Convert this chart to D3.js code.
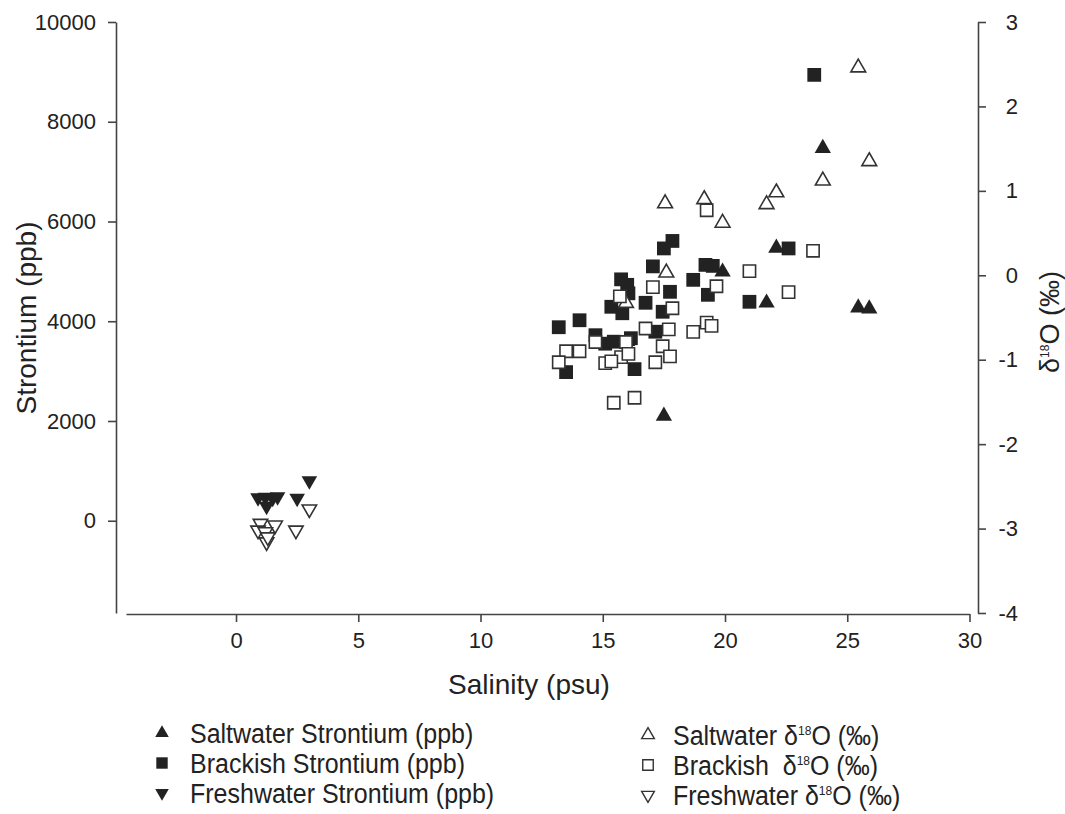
<!DOCTYPE html>
<html>
<head>
<meta charset="utf-8">
<script src="https://cdn.jsdelivr.net/npm/d3@7"></script>
<style>
body { margin: 0; background: #fff; }
text { font-family: "Liberation Sans", Arial, sans-serif; fill: #222; }
</style>
</head>
<body>
<script>
// tick values
var xTicks = [0, 5, 10, 15, 20, 25, 30]
var srTicks = [0, 2000, 4000, 6000, 8000, 10000]
var dTicks = [-4, -3, -2, -1, 0, 1, 2, 3]

// [salinity, strontium ppb]
var saltSr = [[17.5, 2100], [24.0, 7470], [22.1, 5470], [21.7, 4370], [25.45, 4270], [25.9, 4250], [19.9, 4990], [16.0, 3600]]
var brackSr = [[23.65, 8940], [22.6, 5460], [21.0, 4390], [19.2, 5130], [19.5, 5110], [18.7, 4830], [19.3, 4530],
	[17.85, 5610], [17.5, 5460], [17.05, 5100], [15.75, 4840], [16.0, 4730], [16.05, 4560], [15.35, 4290], [15.8, 4160],
	[17.75, 4590], [16.75, 4370], [17.45, 4190], [13.2, 3880], [14.05, 4020], [14.7, 3720], [15.1, 3550], [15.45, 3590],
	[16.15, 3660], [17.15, 3790], [13.5, 2980], [16.3, 3040]]
var freshSr = [[0.9, 460], [1.2, 470], [1.5, 450], [1.7, 480], [1.25, 290], [2.5, 450], [3.0, 800]]

// [salinity, d18O permil]
var saltD = [[25.45, 2.46], [25.9, 1.35], [24.0, 1.12], [22.1, 0.98], [21.7, 0.84], [19.15, 0.9], [19.9, 0.62],
	[17.55, 0.85], [17.6, 0.03], [15.95, -0.33]]
var brackD = [[19.25, 0.77], [23.6, 0.29], [21.0, 0.05], [19.65, -0.13], [22.6, -0.2], [17.05, -0.14], [15.7, -0.25],
	[17.85, -0.39], [16.75, -0.63], [17.7, -0.64], [18.7, -0.67], [19.25, -0.56], [19.45, -0.6], [13.5, -0.9],
	[14.05, -0.9], [13.2, -1.03], [14.7, -0.79], [15.95, -0.79], [15.75, -0.97], [16.05, -0.93], [15.1, -1.04],
	[15.35, -1.02], [17.45, -0.84], [17.75, -0.96], [17.15, -1.03], [15.45, -1.51], [16.3, -1.45]]
var freshD = [[3.0, -2.77], [1.6, -2.96], [2.45, -3.02], [1.0, -2.94], [0.9, -3.02], [1.2, -3.04], [1.25, -3.16], [1.3, -3.1]]

var svg = d3.select("body").append("svg")
	.attr("width", 1065)
	.attr("height", 814)

var x = d3.scaleLinear().domain([-4.5, 30]).range([126, 969.5])
var ySr = d3.scaleLinear().domain([-1850, 10000]).range([613, 22])
var yD = d3.scaleLinear().domain([-4, 3]).range([613, 22])

var plain = function(d) { return String(d) }

function styleAxis(g) {
	g.select(".domain").attr("stroke", "#444").attr("stroke-width", 1.6)
	g.selectAll(".tick line").attr("stroke", "#444").attr("stroke-width", 1.6)
	g.selectAll(".tick text").style("font-size", "22px").attr("fill", "#222")
}

svg.append("g")
	.attr("transform", "translate(0,614)")
	.call(d3.axisBottom(x).tickValues(xTicks).tickFormat(plain).tickSize(8).tickSizeOuter(0).tickPadding(10))
	.call(styleAxis)

svg.append("g")
	.attr("transform", "translate(116,0)")
	.call(d3.axisLeft(ySr).tickValues(srTicks).tickFormat(plain).tickSize(8).tickSizeOuter(0).tickPadding(12))
	.call(styleAxis)

svg.append("g")
	.attr("transform", "translate(978,0)")
	.call(d3.axisRight(yD).tickValues(dTicks).tickFormat(plain).tickSize(8).tickSizeOuter(0).tickPadding(10))
	.call(styleAxis)
	.call(function (g) {
		g.selectAll(".tick text").attr("text-anchor", "end").attr("x", 40)
	})

// axis titles
svg.append("text")
	.attr("x", 529).attr("y", 694)
	.attr("text-anchor", "middle")
	.style("font-size", "28px")
	.text("Salinity (psu)")

svg.append("text")
	.attr("transform", "translate(36,318) rotate(-90)")
	.attr("text-anchor", "middle")
	.style("font-size", "28px")
	.text("Strontium (ppb)")

var dTitle = svg.append("text")
	.attr("transform", "translate(1059,322) rotate(-90)")
	.attr("text-anchor", "middle")
	.style("font-size", "27px")
dTitle.append("tspan").text("δ")
dTitle.append("tspan").attr("dy", -10).style("font-size", "12px").text("18")
dTitle.append("tspan").attr("dy", 10).text("O (‰)")

// markers
var tri = d3.symbol().type(d3.symbolTriangle)
var sq = d3.symbol().type(d3.symbolSquare)

function drawSeries(data, yScale, sym, size, filled, flip) {
	svg.append("g").selectAll("path")
		.data(data)
		.enter()
		.append("path")
		.attr("d", sym.size(size)())
		.attr("transform", function(d) {
			return "translate(" + x(d[0]) + "," + yScale(d[1]) + ")" + (flip ? " rotate(180)" : "")
		})
		.attr("fill", filled ? "#222" : "#fff")
		.attr("stroke", filled ? "none" : "#333")
		.attr("stroke-width", 1.6)
}

drawSeries(saltSr, ySr, tri, 115, true, false)
drawSeries(brackSr, ySr, sq, 190, true, false)
drawSeries(freshSr, ySr, tri, 105, true, true)
drawSeries(saltD, yD, tri, 95, false, false)
drawSeries(brackD, yD, sq, 150, false, false)
drawSeries(freshD, yD, tri, 90, false, true)

// legend
var legendLeft = [
	{ sym: tri, filled: true, flip: false, size: 80, label: "Saltwater Strontium (ppb)" },
	{ sym: sq, filled: true, flip: false, size: 130, label: "Brackish Strontium (ppb)" },
	{ sym: tri, filled: true, flip: true, size: 80, label: "Freshwater Strontium (ppb)" }
]
var legendRight = [
	{ sym: tri, filled: false, flip: false, size: 70, label: "Saltwater " },
	{ sym: sq, filled: false, flip: false, size: 110, label: "Brackish  " },
	{ sym: tri, filled: false, flip: true, size: 70, label: "Freshwater " }
]

function drawLegend(items, mx, tx, y0, step, isDelta) {
	var rows = svg.append("g").selectAll("g")
		.data(items)
		.enter()
		.append("g")
		.attr("transform", function(d, i) { return "translate(0," + (y0 + i * step) + ")" })

	rows.append("path")
		.attr("d", function(d) { return d.sym.size(d.size)() })
		.attr("transform", function(d) { return "translate(" + mx + ",-10)" + (d.flip ? " rotate(180)" : "") })
		.attr("fill", function(d) { return d.filled ? "#222" : "#fff" })
		.attr("stroke", function(d) { return d.filled ? "none" : "#333" })
		.attr("stroke-width", 1.4)

	var t = rows.append("text")
		.attr("transform", "translate(" + tx + ",0) scale(1,1.12)")
		.style("font-size", "25px")
		.style("white-space", "pre")
	t.append("tspan").text(function(d) { return d.label })
	if (isDelta) {
		t.append("tspan").text("δ")
		t.append("tspan").attr("dy", -9).style("font-size", "12px").text("18")
		t.append("tspan").attr("dy", 9).text("O (‰)")
	}
}

drawLegend(legendLeft, 162, 190, 743, 30, false)
drawLegend(legendRight, 648, 673, 745, 30, true)
</script>
</body>
</html>
